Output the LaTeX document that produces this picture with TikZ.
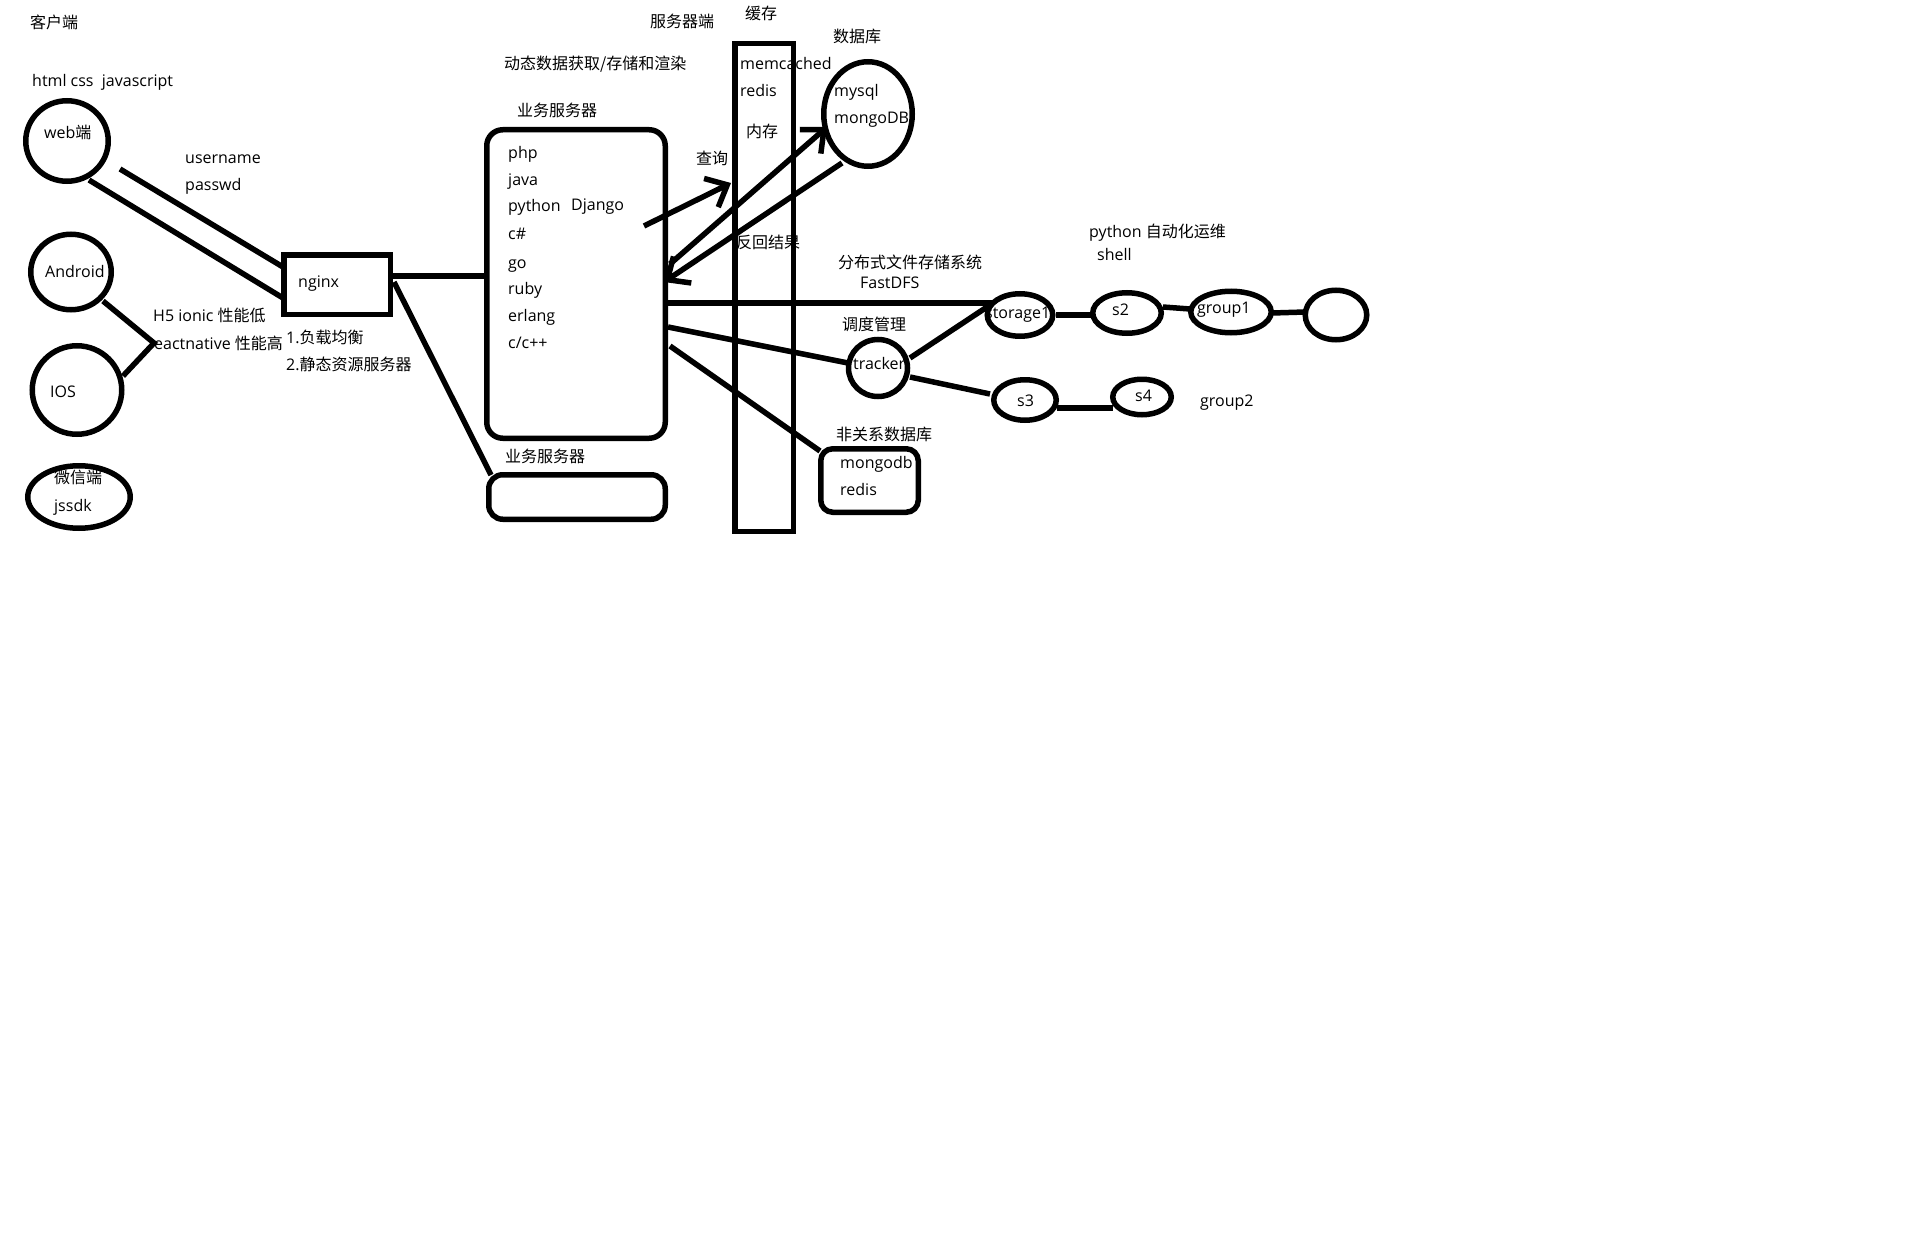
\documentclass[tikz,border=0pt]{standalone}
\usepackage{fontspec}
\setmainfont{Open Sans}
\newfontfamily\cjk{Noto Sans CJK SC}
\usetikzlibrary{shapes.geometric,arrows.meta}
\begin{document}
\begin{tikzpicture}[x=1pt,y=-1pt,
  every node/.style={font=\fontsize{16}{19}\selectfont},
  txt/.style={anchor=west,inner sep=0pt,text height=0.7em,text depth=0pt},
  oval/.style={draw,ellipse,inner sep=0pt,line width=5.5pt},
  box/.style={draw,rectangle,inner sep=0pt,line width=5.5pt},
  conn/.style={line width=5.5pt},
  arr/.style={conn,-{Straight Barb[length=18pt,width=32pt]}}]
\useasboundingbox (0,0) rectangle (1930,1252);
% shapes
\node[oval,minimum width=82.5pt,minimum height=80.5pt] (web) at (67,141) {};
\node[oval,minimum width=80.5pt,minimum height=75.5pt] (android) at (71,272) {};
\node[oval,minimum width=89.5pt,minimum height=88.5pt] (ios) at (77,390) {};
\node[oval,minimum width=102.5pt,minimum height=62.5pt] (wechat) at (79,497) {};
\node[oval,minimum width=88.5pt,minimum height=104.5pt] (db) at (868,114) {};
\node[oval,minimum width=59pt,minimum height=57pt] (tracker) at (878,368) {};
\node[oval,minimum width=65.5pt,minimum height=42.5pt] (storage1) at (1020,315) {};
\node[oval,minimum width=68.5pt,minimum height=40.5pt] (s2) at (1127,313) {};
\node[oval,minimum width=80.5pt,minimum height=41.5pt] (group1) at (1231,312) {};
\node[oval,minimum width=61.5pt,minimum height=49.5pt] (blank) at (1336,315) {};
\node[oval,minimum width=62.5pt,minimum height=40.5pt] (s3) at (1025,400) {};
\node[oval,minimum width=58.5pt,minimum height=35.5pt] (s4) at (1142,397) {};
\node[box,minimum width=106.5pt,minimum height=59.5pt] (nginx) at (337,284.5) {};
\node[box,rounded corners=16pt,minimum width=178.5pt,minimum height=308.5pt] (biz) at (576,284) {};
\node[box,rounded corners=14pt,minimum width=176.5pt,minimum height=44.5pt] (biz2) at (577,497) {};
\node[box,minimum width=58.5pt,minimum height=487.5pt] (cache) at (764,287.5) {};
\node[box,rounded corners=12pt,minimum width=97.5pt,minimum height=63.5pt] (nosql) at (869.5,480.5) {};
% connector end points
\coordinate (wa1) at (120,169); \coordinate (wa2) at (283,267);
\coordinate (wb1) at (89,180);  \coordinate (wb2) at (283,298);
\coordinate (br1) at (103,301); \coordinate (br2) at (154,343); \coordinate (br3) at (123,376);
\coordinate (nb1) at (393,276); \coordinate (nb2) at (486,276);
\coordinate (ns1) at (394,282); \coordinate (ns2) at (491,475);
\coordinate (q1) at (644,226);  \coordinate (q2) at (731,183);
\coordinate (d1) at (670,264);  \coordinate (d2) at (827,127);
\coordinate (r1) at (842,163);  \coordinate (r2) at (664,282);
\coordinate (f1) at (668,303);  \coordinate (f2) at (992,303);
\coordinate (t1) at (668,327);  \coordinate (t2) at (848,363);
\coordinate (m1) at (670,346);  \coordinate (m2) at (820,451);
\coordinate (ts1) at (910,358); \coordinate (ts2c) at (990,305);
\coordinate (tt1) at (910,377); \coordinate (tt2) at (990,394);
\coordinate (a1) at (1056,315); \coordinate (a2) at (1092,315);
\coordinate (b1) at (1163,307); \coordinate (b2) at (1190,309);
\coordinate (c1) at (1272,313); \coordinate (c2) at (1305,312);
\coordinate (e1) at (1057,408); \coordinate (e2) at (1113,408);
% connectors
\draw[conn] (wa1) -- (wa2);
\draw[conn] (wb1) -- (wb2);
\draw[conn] (br1) -- (br2) -- (br3);
\draw[conn] (nb1) -- (nb2);
\draw[conn] (ns1) -- (ns2);
\draw[arr] (q1) -- (q2);
\draw[arr] (d1) -- (d2);
\draw[arr] (r1) -- (r2);
\draw[conn] (f1) -- (f2);
\draw[conn] (t1) -- (t2);
\draw[conn] (m1) -- (m2);
\draw[conn] (ts1) -- (ts2c);
\draw[conn] (tt1) -- (tt2);
\draw[conn] (a1) -- (a2);
\draw[conn] (b1) -- (b2);
\draw[conn] (c1) -- (c2);
\draw[conn] (e1) -- (e2);
% texts
\node[txt] (tkh) at (30,25) {\cjk 客户端};
\node[txt] (tfw) at (650,24) {\cjk 服务器端};
\node[txt] (thc) at (745,16) {\cjk 缓存};
\node[txt] (tsj) at (833,39) {\cjk 数据库};
\node[txt] (tdt) at (504,66) {\cjk 动态数据获取/存储和渲染};
\node[txt] (thtml) at (32,83) {html css\ \ javascript};
\node[txt] (tyw1) at (517,113) {\cjk 业务服务器};
\node[txt] (tweb) at (44,135) {web{\cjk 端}};
\node[txt] (tuser) at (185,160) {username};
\node[txt] (tpass) at (185,187) {passwd};
\node[txt] (tmem) at (740,66) {memcached};
\node[txt] (tred1) at (740,93) {redis};
\node[txt] (tnc) at (746,134) {\cjk 内存};
\node[txt] (tmy) at (834,93) {mysql};
\node[txt] (tmg) at (834,120) {mongoDB};
\node[txt] (tphp) at (508,155) {php};
\node[txt] (tjava) at (508,182) {java};
\node[txt] (tpy) at (508,208) {python};
\node[txt] (tdj) at (571,207) {Django};
\node[txt] (tcs) at (508,236) {c\#};
\node[txt] (tgo) at (508,265) {go};
\node[txt] (truby) at (508,291) {ruby};
\node[txt] (terl) at (508,318) {erlang};
\node[txt] (tcpp) at (508,345) {c/c++};
\node[txt] (tcx) at (696,161) {\cjk 查询};
\node[txt] (tfh) at (736,245) {\cjk 反回结果};
\node[txt] (tand) at (45,274) {Android};
\node[txt] (tngx) at (298,284) {nginx};
\node[txt] (th5) at (153,318) {H5 ionic {\cjk 性能低}};
\node[txt] (trn) at (154,346) {eactnative {\cjk 性能高}};
\node[txt] (tfz) at (286,340) {1.{\cjk 负载均衡}};
\node[txt] (tjt) at (286,367) {2.{\cjk 静态资源服务器}};
\node[txt] (tios) at (50,394) {IOS};
\node[txt] (tyw2) at (505,459) {\cjk 业务服务器};
\node[txt] (twx) at (54,480) {\cjk 微信端};
\node[txt] (tjs) at (54,508) {jssdk};
\node[txt] (tfb) at (838,265) {\cjk 分布式文件存储系统};
\node[txt] (tfd) at (860,285) {FastDFS};
\node[txt] (tpya) at (1089,234) {python {\cjk 自动化运维}};
\node[txt] (tsh) at (1097,257) {shell};
\node[txt] (tst1) at (985,315) {storage1};
\node[txt] (ts2) at (1112,312) {s2};
\node[txt] (tg1) at (1197,310) {group1};
\node[txt] (tdd) at (842,327) {\cjk 调度管理};
\node[txt] (ttr) at (853,366) {tracker};
\node[txt] (ts3) at (1017,403) {s3};
\node[txt] (ts4) at (1135,398) {s4};
\node[txt] (tg2) at (1200,403) {group2};
\node[txt] (tfg) at (836,437) {\cjk 非关系数据库};
\node[txt] (tmdb) at (840,465) {mongodb};
\node[txt] (tred2) at (840,492) {redis};
\end{tikzpicture}
\end{document}
